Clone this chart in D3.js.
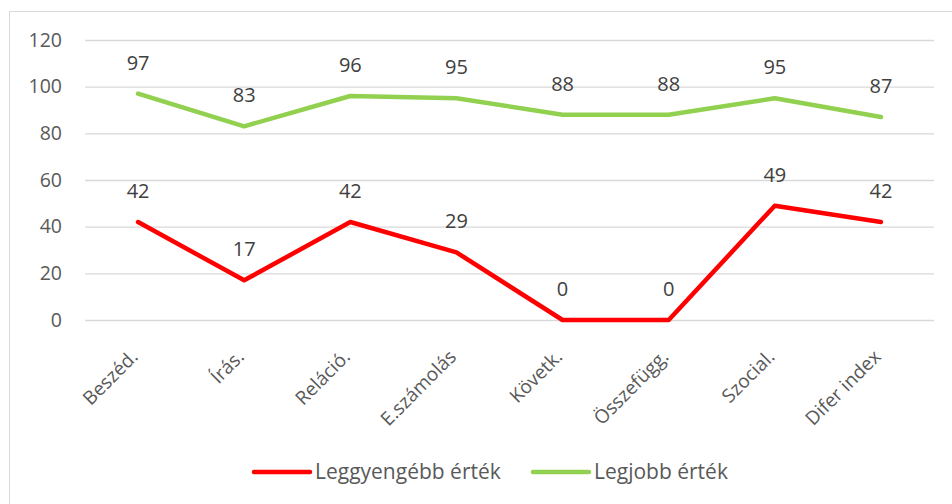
<!DOCTYPE html>
<html lang="en">
<head>
<meta charset="UTF-8">
<title>Line chart</title>
<script src="https://d3js.org/d3.v7.min.js"></script>
<style>
  body { margin: 0; background: #fff; }
  text { font-family: "Open Sans", "Noto Sans", sans-serif; fill: #595959; }
</style>
</head>
<body>
<script>
  var categories = ["Beszéd.", "Írás.", "Reláció.", "E.számolás", "Követk.", "Összefügg.", "Szocial.", "Difer index"];
  var weakest = [42, 17, 42, 29, 0, 0, 49, 42];
  var best = [97, 83, 96, 95, 88, 88, 95, 87];
  var yTicks = [0, 20, 40, 60, 80, 100, 120];
  var seriesNames = ["Leggyengébb érték", "Legjobb érték"];
  var seriesColors = ["#ff0000", "#92d050"];

  var w = 952, h = 504;
  var plotLeft = 85, plotRight = 934, plotTop = 40, plotBottom = 320;

  var svg = d3.select("body").append("svg")
      .attr("width", w)
      .attr("height", h);

  // outer frame
  svg.append("rect")
      .attr("x", 9.5).attr("y", 11.5)
      .attr("width", w + 10).attr("height", h + 10)
      .attr("fill", "none")
      .attr("stroke", "#d9d9d9");

  var x = d3.scaleBand().domain(categories).range([plotLeft, plotRight]);
  var y = d3.scaleLinear().domain([0, 120]).range([plotBottom, plotTop]);

  // gridlines
  svg.append("g").selectAll("line")
      .data(yTicks)
      .join("line")
      .attr("x1", plotLeft).attr("x2", plotRight)
      .attr("y1", d => y(d) + 0.5).attr("y2", d => y(d) + 0.5)
      .attr("stroke", "#d9d9d9")
      .attr("stroke-width", 1.3);

  // y labels
  svg.append("g").selectAll("text")
      .data(yTicks)
      .join("text")
      .attr("x", 62)
      .attr("y", d => y(d))
      .attr("dy", "0.35em")
      .attr("text-anchor", "end")
      .style("font-size", "19.5px")
      .text(d => d);

  // x labels
  svg.append("g").selectAll("text")
      .data(categories)
      .join("text")
      .attr("text-anchor", "end")
      .attr("transform", d => "translate(" + (x(d) + x.bandwidth() / 2 + 1) + ",358) rotate(-45)")
      .style("font-size", "19px")
      .text(d => d);

  var line = d3.line()
      .x((d, i) => x(categories[i]) + x.bandwidth() / 2)
      .y(d => y(d));

  [weakest, best].forEach(function(s, k) {
    svg.append("path")
        .datum(s)
        .attr("d", line)
        .attr("fill", "none")
        .attr("stroke", seriesColors[k])
        .attr("stroke-width", 4.5)
        .attr("stroke-linecap", "round")
        .attr("stroke-linejoin", "round");

    svg.append("g").selectAll("text")
        .data(s)
        .join("text")
        .attr("x", (d, i) => x(categories[i]) + x.bandwidth() / 2)
        .attr("y", d => y(d) - 24)
        .attr("text-anchor", "middle")
        .style("font-size", "20px")
        .style("fill", "#404040")
        .text(d => d);
  });

  // legend
  var legend = svg.append("g");
  var lx = [254, 533];
  seriesNames.forEach(function(n, k) {
    legend.append("line")
        .attr("x1", lx[k]).attr("x2", lx[k] + 56)
        .attr("y1", 472).attr("y2", 472)
        .attr("stroke", seriesColors[k])
        .attr("stroke-width", 4.5)
        .attr("stroke-linecap", "round");
    legend.append("text")
        .attr("x", lx[k] + 61)
        .attr("y", 472)
        .attr("dy", "0.35em")
        .style("font-size", "21px")
        .text(n);
  });
</script>
</body>
</html>
